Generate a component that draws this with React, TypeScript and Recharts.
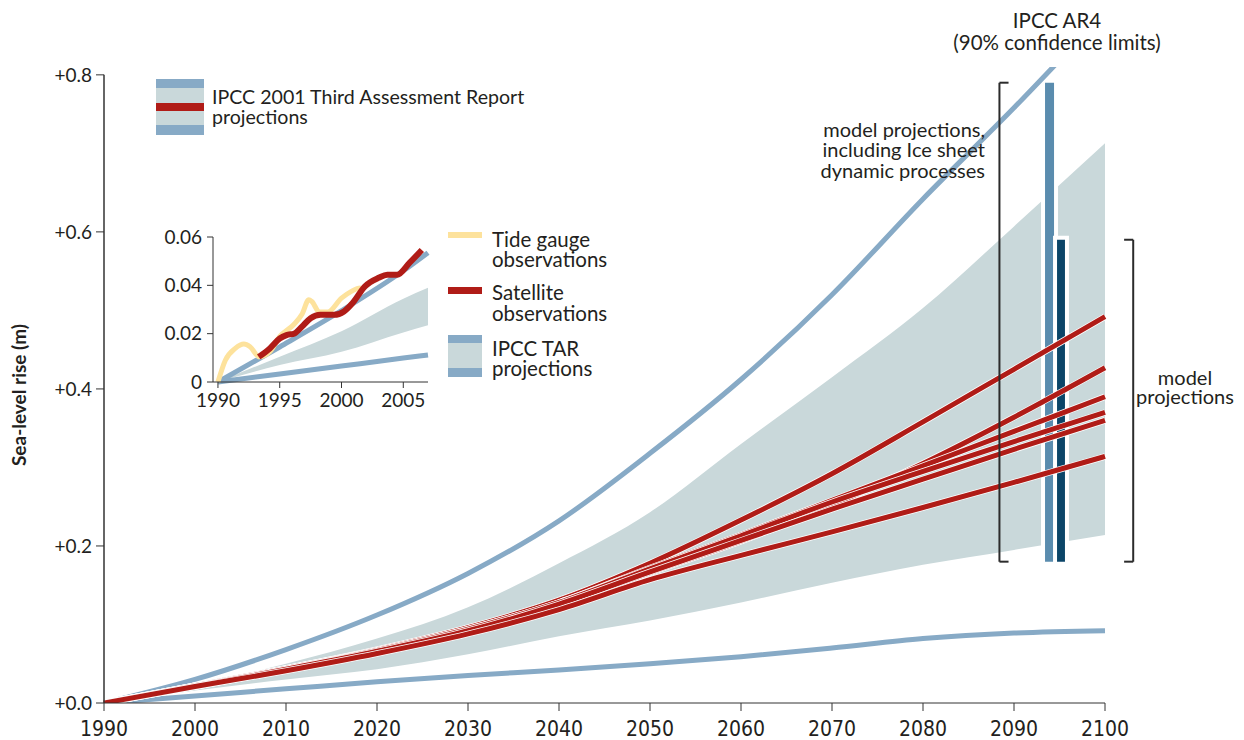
import React from 'react';
import {
  ComposedChart,
  Line,
  Area,
  XAxis,
  YAxis,
  ReferenceLine,
  ReferenceArea,
} from 'recharts';

// main chart: IPCC TAR projections, 1990-2100 (m)
const years = [1990, 2000, 2010, 2020, 2030, 2040, 2050, 2060, 2070, 2080, 2090, 2100];
const tarUpper = [0, 0.03, 0.068, 0.112, 0.165, 0.232, 0.318, 0.412, 0.52, 0.642, 0.758, 0.88];
const tarLower = [0, 0.009, 0.018, 0.027, 0.035, 0.042, 0.05, 0.059, 0.07, 0.082, 0.089, 0.092];
const bandHigh = [0, 0.022, 0.05, 0.082, 0.122, 0.178, 0.243, 0.33, 0.415, 0.503, 0.607, 0.713];
const bandLow = [0, 0.016, 0.03, 0.043, 0.062, 0.085, 0.105, 0.128, 0.153, 0.176, 0.195, 0.214];
const scen1 = [0, 0.022, 0.044, 0.068, 0.096, 0.131, 0.178, 0.233, 0.292, 0.358, 0.425, 0.492];
const scen2 = [0, 0.021, 0.042, 0.065, 0.091, 0.124, 0.166, 0.206, 0.252, 0.305, 0.364, 0.427];
const scen3 = [0, 0.022, 0.044, 0.067, 0.094, 0.128, 0.172, 0.214, 0.258, 0.302, 0.346, 0.39];
const scen4 = [0, 0.022, 0.043, 0.067, 0.094, 0.128, 0.171, 0.213, 0.256, 0.295, 0.333, 0.37];
const scen5 = [0, 0.021, 0.043, 0.066, 0.092, 0.126, 0.167, 0.207, 0.247, 0.285, 0.323, 0.36];
const scen6 = [0, 0.021, 0.041, 0.063, 0.088, 0.119, 0.157, 0.188, 0.218, 0.249, 0.281, 0.314];
const xTicks = [1990, 2000, 2010, 2020, 2030, 2040, 2050, 2060, 2070, 2080, 2090, 2100];
const yTicks = [0, 0.2, 0.4, 0.6, 0.8];

// AR4 90% ranges for 2090-2099
const ar4Ice = [0.18, 0.79];
const ar4Model = [0.18, 0.59];

// inset: observations 1990-2007 (m)
const insetYears = [1990, 1995, 2000, 2005, 2007];
const insetUpper = [0, 0.0145, 0.0295, 0.046, 0.0535];
const insetLower = [0, 0.0033, 0.0066, 0.0099, 0.0112];
const insetBandHigh = [0, 0.0105, 0.021, 0.0345, 0.039];
const insetBandLow = [0, 0.007, 0.0125, 0.0205, 0.0235];
const tideYears = [1990, 1990.6, 1991.4, 1992.1, 1992.6, 1993.35, 1994.2, 1995, 1996.1, 1996.8, 1997.35, 1997.6, 1998.2, 1998.9, 2000, 2000.8, 2001.5, 2001.8];
const tideLevel = [0, 0.009, 0.0139, 0.0157, 0.0146, 0.0104, 0.0125, 0.0188, 0.0236, 0.028, 0.034, 0.0333, 0.029, 0.029, 0.0347, 0.0375, 0.0389, 0.038];
const satYears = [1993.3, 1994.2, 1995, 1995.55, 1996.2, 1996.8, 1997.5, 1998.3, 1999.4, 2000.2, 2000.9, 2001.9, 2003, 2003.7, 2004.5, 2005.5, 2006.5];
const satLevel = [0.0104, 0.0139, 0.018, 0.0194, 0.0201, 0.0229, 0.0264, 0.0278, 0.0278, 0.0292, 0.0327, 0.0396, 0.0431, 0.0444, 0.0444, 0.0493, 0.0546];
const insetXTicks = [1990, 1995, 2000, 2005];
const insetYTicks = [0, 0.02, 0.04, 0.06];

const FONT = "Lato, 'Noto Sans', sans-serif";
const NARROW = "'Liberation Sans Narrow', 'DejaVu Sans Condensed', sans-serif";
const INK = '#231f20';
const RED = '#b01c17';
const BLUE = '#87aac6';
const GREY = '#c9d8da';

const scenarios = [scen1, scen2, scen3, scen4, scen5, scen6];

const mainData = years.map((year, i) => {
  const row: any = {
    year,
    upper: tarUpper[i],
    lower: tarLower[i],
    band: [bandLow[i], bandHigh[i]],
  };
  scenarios.forEach((s, k) => (row['s' + k] = s[i]));
  return row;
});

const insetData = insetYears.map((year, i) => ({
  year,
  upper: insetUpper[i],
  lower: insetLower[i],
  band: [insetBandLow[i], insetBandHigh[i]],
}));
const tideData = tideYears.map((year, i) => ({ year, v: tideLevel[i] }));
const satData = satYears.map((year, i) => ({ year, v: satLevel[i] }));

// multi-line label, y = centre of the first line, step = line spacing
const Text = ({ x, y, step = 20, align = 'left', size = 20, lines }: any) => (
  <div
    style={{
      position: 'absolute',
      left: x,
      top: y - step / 2,
      lineHeight: step + 'px',
      fontSize: size,
      whiteSpace: 'pre',
      textAlign: align,
      transform: align === 'center' ? 'translateX(-50%)' : align === 'right' ? 'translateX(-100%)' : undefined,
    }}
  >
    {lines.join('\n')}
  </div>
);

const Swatch = ({ x, y, w, h, color }: any) => (
  <div style={{ position: 'absolute', left: x, top: y, width: w, height: h, background: color }} />
);

const bracket = (x: number, lo: number, hi: number, dir: number) => [
  [{ x, y: lo }, { x, y: hi }],
  [{ x, y: lo }, { x: x + dir, y: lo }],
  [{ x, y: hi }, { x: x + dir, y: hi }],
];

export default function App() {
  return (
    <div
      style={{
        position: 'absolute',
        left: 0,
        top: 0,
        width: 1244,
        height: 740,
        background: '#fff',
        fontFamily: FONT,
        color: INK,
      }}
    >
      <ComposedChart width={1244} height={740} data={mainData} margin={{ top: 67, right: 139, bottom: 0, left: 0 }}>
        <XAxis
          dataKey="year"
          type="number"
          domain={[1990, 2100]}
          ticks={xTicks}
          interval={0}
          height={37}
          tickSize={8}
          tickMargin={10}
          stroke="#333"
          tick={{ fill: INK, fontSize: 21, fontFamily: NARROW }}
        />
        <YAxis
          type="number"
          domain={[0, 0.81]}
          allowDataOverflow
          ticks={yTicks}
          width={104}
          axisLine={false}
          tickLine={{ stroke: '#333' }}
          tickSize={8}
          tickMargin={4}
          tickFormatter={(v: number) => '+' + v.toFixed(1)}
          tick={{ fill: INK, fontSize: 19, fontFamily: FONT }}
        />
        <Area dataKey="band" type="monotone" stroke="none" fill={GREY} fillOpacity={1} isAnimationActive={false} />
        <Line dataKey="lower" type="monotone" stroke={BLUE} strokeWidth={5} dot={false} isAnimationActive={false} />
        <Line dataKey="upper" type="monotone" stroke={BLUE} strokeWidth={5} dot={false} isAnimationActive={false} />
        {scenarios.map((_, k) => [
          <Line key={'w' + k} dataKey={'s' + k} type="monotone" stroke="#fff" strokeWidth={6.5} dot={false} isAnimationActive={false} />,
          <Line key={'r' + k} dataKey={'s' + k} type="monotone" stroke={RED} strokeWidth={5} dot={false} isAnimationActive={false} />,
        ])}
        <ReferenceArea x1={2093.19} x2={2094.62} y1={ar4Ice[0] - 0.0025} y2={ar4Ice[1] + 0.0025} fill="#5a8cae" fillOpacity={1} stroke="#fff" strokeWidth={4} ifOverflow="visible" />
        <ReferenceArea x1={2094.51} x2={2095.82} y1={ar4Model[0] - 0.0025} y2={ar4Model[1] + 0.0025} fill="#0b4568" fillOpacity={1} stroke="#fff" strokeWidth={4} ifOverflow="visible" />
        {bracket(2088.4, ar4Ice[0], ar4Ice[1], 1).map((seg, i) => (
          <ReferenceLine key={'bl' + i} segment={seg} stroke="#2b2b2b" strokeWidth={2} ifOverflow="visible" />
        ))}
        {bracket(2103.1, ar4Model[0], ar4Model[1], -1).map((seg, i) => (
          <ReferenceLine key={'br' + i} segment={seg} stroke="#2b2b2b" strokeWidth={2} ifOverflow="visible" />
        ))}
        <ReferenceLine segment={[{ x: 1990, y: 0 }, { x: 1990, y: 0.8 }]} stroke="#333" strokeWidth={1.5} ifOverflow="visible" />
      </ComposedChart>

      {/* inset: observations */}
      <div style={{ position: 'absolute', left: 150, top: 225 }}>
        <ComposedChart width={290} height={195} data={insetData} margin={{ top: 12, right: 12, bottom: 0, left: 0 }}>
          <XAxis
            dataKey="year"
            type="number"
            domain={[1989.6, 2007]}
            ticks={insetXTicks}
            interval={0}
            height={38}
            tickSize={6}
            tickMargin={6}
            stroke="#333"
            tick={{ fill: INK, fontSize: 19, fontFamily: FONT }}
          />
          <YAxis
            type="number"
            domain={[0, 0.06]}
            ticks={insetYTicks}
            width={63}
            tickSize={6}
            tickMargin={5}
            stroke="#333"
            tickFormatter={(v: number) => (v === 0 ? '0' : v.toFixed(2))}
            tick={{ fill: INK, fontSize: 19, fontFamily: FONT }}
          />
          <Area dataKey="band" type="monotone" stroke="none" fill={GREY} fillOpacity={1} isAnimationActive={false} />
          <Line dataKey="lower" type="monotone" stroke={BLUE} strokeWidth={5} dot={false} isAnimationActive={false} />
          <Line dataKey="upper" type="monotone" stroke={BLUE} strokeWidth={5} dot={false} isAnimationActive={false} />
          <Line data={tideData} dataKey="v" type="monotone" stroke="#fde29c" strokeWidth={5} dot={false} isAnimationActive={false} />
          <Line data={satData} dataKey="v" type="monotone" stroke={RED} strokeWidth={6} dot={false} isAnimationActive={false} />
        </ComposedChart>
      </div>

      {/* main legend */}
      <Swatch x={156} y={79} w={48} h={9} color={BLUE} />
      <Swatch x={156} y={88} w={48} h={15} color={GREY} />
      <Swatch x={156} y={103} w={48} h={8} color={RED} />
      <Swatch x={156} y={111} w={48} h={14} color={GREY} />
      <Swatch x={156} y={125} w={48} h={10} color={BLUE} />
      <Text x={212} y={97} size={19.6} lines={['IPCC 2001 Third Assessment Report', 'projections']} />

      {/* inset legend */}
      <Swatch x={448} y={232} w={34} h={6} color="#fde29c" />
      <Text x={492} y={239} size={20.5} lines={['Tide gauge', 'observations']} />
      <Swatch x={448} y={287} w={34} h={7} color={RED} />
      <Text x={492} y={292} step={21} size={20.5} lines={['Satellite', 'observations']} />
      <Swatch x={448} y={335} w={34} h={8} color={BLUE} />
      <Swatch x={448} y={343} w={34} h={25} color={GREY} />
      <Swatch x={448} y={368} w={34} h={9} color={BLUE} />
      <Text x={492} y={348} size={20.5} lines={['IPCC TAR', 'projections']} />

      {/* annotations */}
      <Text x={1057} y={20} step={22} align="center" size={20.5} lines={['IPCC AR4', '(90% confidence limits)']} />
      <Text x={985} y={129} step={20.5} align="right" size={20} lines={['model projections,', 'including Ice sheet', 'dynamic processes']} />
      <Text x={1185} y={377} step={19} align="center" size={20} lines={['model', 'projections']} />

      {/* y axis title */}
      <div
        style={{
          position: 'absolute',
          left: 18,
          top: 395,
          fontSize: 19,
          fontWeight: 700,
          whiteSpace: 'nowrap',
          transform: 'translate(-50%, -50%) rotate(-90deg)',
        }}
      >
        Sea-level rise (m)
      </div>
    </div>
  );
}
